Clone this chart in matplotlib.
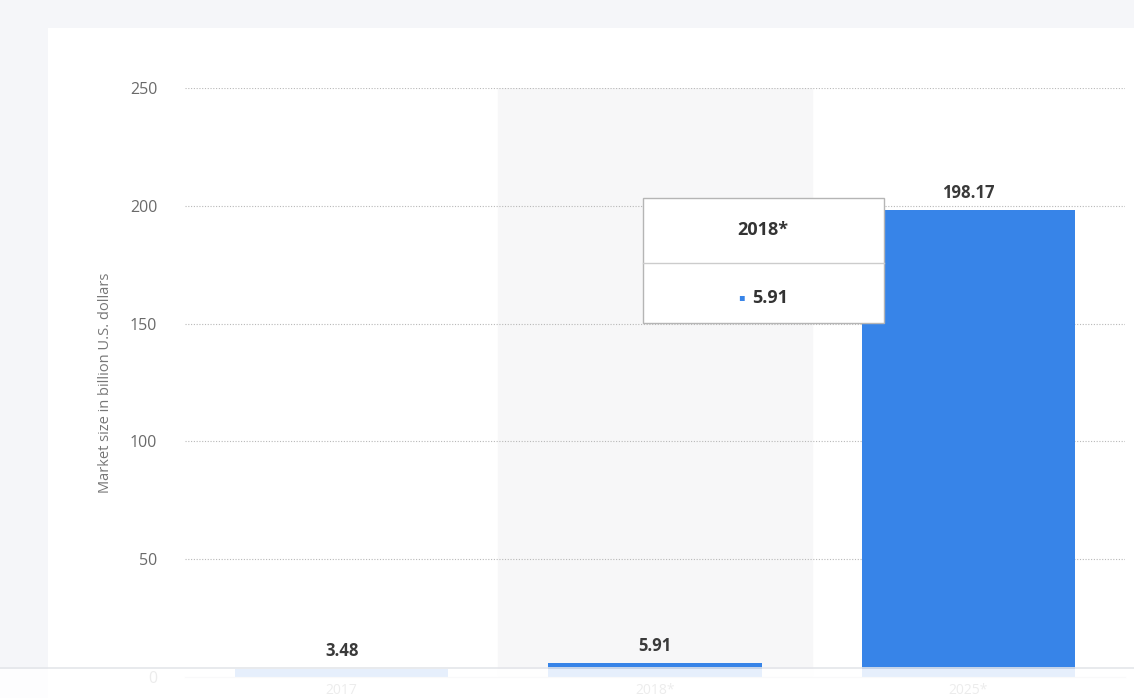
# Market size bar chart with hover tooltip (Statista-style screenshot)
import matplotlib.pyplot as plt
from matplotlib.patches import Rectangle

years = ["2017", "2018*", "2025*"]
market_size = [3.48, 5.91, 198.17]
y_ticks = [0, 50, 100, 150, 200, 250]
hover_year = "2018*"

W, H = 1134, 698
BLUE = "#3784e8"

plt.rcParams["font.family"] = ["Open Sans", "DejaVu Sans"]

fig = plt.figure(figsize=(W / 100, H / 100), dpi=100)
fig.patch.set_facecolor("#f5f6f9")


def fx(x):
    return x / W


def fy(y):
    return 1 - y / H


# white card behind the chart
fig.add_artist(Rectangle((fx(48), 0), 1, fy(28), transform=fig.transFigure,
                         facecolor="white", edgecolor="none", zorder=-5))

ax = fig.add_axes([fx(185), fy(677), fx(1125) - fx(185), fy(88) - fy(677)])
ax.set_facecolor("none")

x = list(range(len(years)))
hi = years.index(hover_year)
ax.axvspan(hi - 0.5, hi + 0.5, color="#f7f7f8", zorder=0)

ax.bar(x, market_size, width=0.68, color=BLUE, zorder=2)
for xi, v in zip(x, market_size):
    ax.annotate(f"{v:.2f}", (xi, v), xytext=(0, 6), textcoords="offset points",
                ha="center", va="bottom", fontsize=12, fontweight="bold",
                color="#3a3a3a", zorder=3)

ax.set_xlim(-0.5, 2.5)
ax.set_ylim(0, 250)
ax.set_yticks(y_ticks)
ax.set_xticks(x)
ax.set_xticklabels(years)
ax.yaxis.grid(True, linestyle=(0, (1, 1.5)), color="#b8b8b8", linewidth=0.8, zorder=1)
ax.set_axisbelow(True)
for s in ["top", "right", "left"]:
    ax.spines[s].set_visible(False)
ax.spines["bottom"].set_color("#cfd3da")
ax.tick_params(axis="y", length=0, pad=20, labelsize=11.5, labelcolor="#6a6a6a")
ax.tick_params(axis="x", length=0, pad=4, labelsize=10, labelcolor="#6a6a6a")
ax.set_ylabel("Market size in billion U.S. dollars", fontsize=10.5, color="#777777",
              labelpad=12)

# faded strip over the bottom of the screenshot
fig.add_artist(Rectangle((0, 0), 1, fy(669), transform=fig.transFigure,
                         facecolor="white", edgecolor="none", alpha=0.88, zorder=10))
fig.add_artist(plt.Line2D([0, 1], [fy(668), fy(668)], transform=fig.transFigure,
                          color="#e4e6ea", linewidth=1.2, zorder=11))

# hover tooltip
fig.add_artist(Rectangle((fx(643), fy(323)), fx(884) - fx(643), fy(198) - fy(323),
                         transform=fig.transFigure, facecolor="white",
                         edgecolor="#b5b5b5", linewidth=1, zorder=12))
fig.add_artist(plt.Line2D([fx(643), fx(884)], [fy(263), fy(263)],
                          transform=fig.transFigure, color="#cccccc",
                          linewidth=1, zorder=13))
fig.text(fx(763), fy(230), hover_year, ha="center", va="center", fontsize=13,
         fontweight="bold", color="#333333", zorder=14)
fig.text(fx(741), fy(298), "\u25aa", ha="center", va="center", fontsize=7,
         color=BLUE, zorder=14)
fig.text(fx(752), fy(298), f"{market_size[hi]:.2f}", ha="left", va="center",
         fontsize=13, fontweight="bold", color="#333333", zorder=14)

fig.savefig("out.png", dpi=100, facecolor=fig.get_facecolor())
